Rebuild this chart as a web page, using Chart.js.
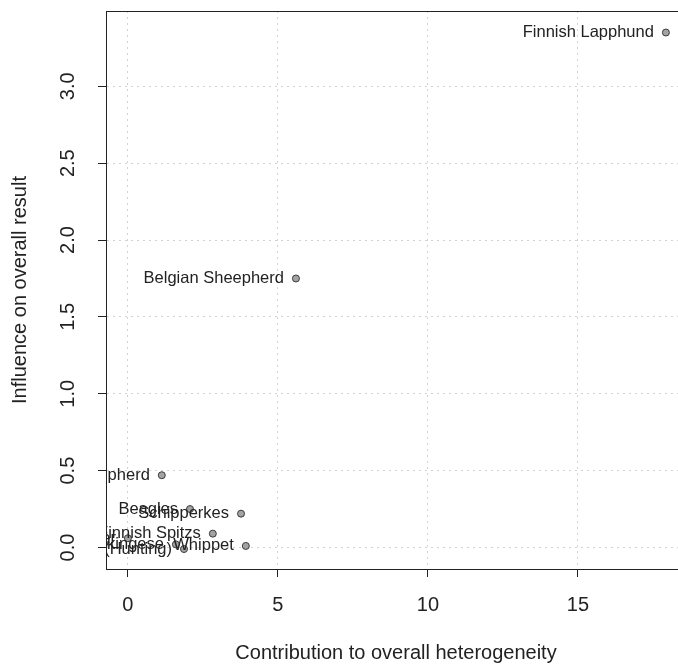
<!DOCTYPE html>
<html>
<head>
<meta charset="utf-8">
<script src="https://cdn.jsdelivr.net/npm/chart.js@4/dist/chart.umd.min.js"></script>
<style>
  html, body { margin: 0; padding: 0; background: #fff; overflow: hidden; }
  #wrap { width: 678px; height: 668px; overflow: hidden; }
</style>
</head>
<body>
<div id="wrap"><canvas id="chart" width="700" height="668" style="width:700px;height:668px"></canvas></div>
<script>
// breeds, as labelled next to each point
var breeds = [
  'Finnish Lapphund',
  'Belgian Sheepherd',
  'German Shepherd',
  'Beagles',
  'Schipperkes',
  'Finnish Spitzs',
  'Whippet',
  'Finnish Hound (Hunting)',
  'Pekingese',
  'Lapponian Herder'
];
// contribution to overall heterogeneity (x)
var contribution = [17.93, 5.6, 1.13, 2.07, 3.77, 2.83, 3.93, 1.87, 1.6, 0.0];
// influence on overall result (y)
var influence = [3.35, 1.75, 0.47, 0.25, 0.22, 0.09, 0.01, -0.01, 0.02, 0.06];

var xTickValues = [0, 5, 10, 15];
var yTickValues = [0, 0.5, 1, 1.5, 2, 2.5, 3];

(function () {
  var axisFont = { family: '"Liberation Sans", Arial, sans-serif', size: 20 };
  var textColor = '#222';

  var pointLabels = {
    id: 'pointLabels',
    afterDatasetsDraw: function (chart) {
      var ctx = chart.ctx;
      var area = chart.chartArea;
      var xs = chart.scales.x;
      var ys = chart.scales.y;
      ctx.save();
      ctx.beginPath();
      ctx.rect(area.left, area.top, area.right - area.left, area.bottom - area.top);
      ctx.clip();
      ctx.font = '16.5px "Liberation Sans", Arial, sans-serif';
      ctx.fillStyle = textColor;
      ctx.textAlign = 'right';
      ctx.textBaseline = 'middle';
      breeds.forEach(function (name, i) {
        ctx.fillText(name, xs.getPixelForValue(contribution[i]) - 12, ys.getPixelForValue(influence[i]));
      });
      ctx.restore();
    }
  };

  var plotBox = {
    id: 'plotBox',
    afterDraw: function (chart) {
      var ctx = chart.ctx;
      var a = chart.chartArea;
      ctx.save();
      ctx.strokeStyle = '#222';
      ctx.lineWidth = 1;
      ctx.strokeRect(Math.round(a.left) + 0.5, Math.round(a.top) + 0.5,
        Math.round(a.right - a.left), Math.round(a.bottom - a.top));
      ctx.restore();
    }
  };

  // no extra room for overhanging tick labels, the box is set by layout padding
  function noPadding(scale) {
    scale.paddingTop = 0;
    scale.paddingBottom = 0;
    scale.paddingLeft = 0;
    scale.paddingRight = 0;
  }

  var chart = new Chart(document.getElementById('chart'), {
    type: 'scatter',
    data: {
      datasets: [
        {
          data: contribution.map(function (x, i) {
            return { x: x, y: influence[i] };
          }),
          backgroundColor: '#a3a3a3',
          borderColor: '#3a3a3a',
          borderWidth: 1,
          pointRadius: 3.5,
        }
      ]
    },
    options: {
      responsive: false,
      animation: false,
      layout: {
        padding: { left: 0, top: 11, right: 14, bottom: 0 },
      },
      plugins: {
        legend: { display: false },
        tooltip: { enabled: false },
      },
      scales: {
        x: {
          type: 'linear',
          min: -0.73,
          max: 18.6,
          afterBuildTicks: function (scale) {
            scale.ticks = xTickValues.map(function (v) { return { value: v }; });
          },
          afterFit: function (scale) {
            scale.height = 99;
            noPadding(scale);
          },
          ticks: {
            autoSkip: false,
            maxRotation: 0,
            padding: 16,
            color: textColor,
            font: axisFont,
          },
          grid: {
            color: '#d3d3d3',
            tickColor: '#222',
            tickLength: 8,
            tickBorderDash: [],
          },
          border: { display: true, color: '#222', dash: [2, 4] },
          title: {
            display: true,
            text: 'Contribution to overall heterogeneity',
            color: textColor,
            font: axisFont,
            padding: { top: 0, bottom: 3 },
          },
        },
        y: {
          type: 'linear',
          min: -0.14,
          max: 3.49,
          afterBuildTicks: function (scale) {
            scale.ticks = yTickValues.map(function (v) { return { value: v }; });
          },
          afterFit: function (scale) {
            scale.width = 106;
            noPadding(scale);
          },
          ticks: {
            autoSkip: false,
            minRotation: 90,
            maxRotation: 90,
            crossAlign: 'center',
            padding: 16,
            color: textColor,
            font: axisFont,
            callback: function (v) { return Number(v).toFixed(1); },
          },
          grid: {
            color: '#d3d3d3',
            tickColor: '#222',
            tickLength: 8,
            tickBorderDash: [],
          },
          border: { display: true, color: '#222', dash: [2, 4] },
          title: {
            display: true,
            text: 'Influence on overall result',
            color: textColor,
            font: axisFont,
            padding: { top: 8, bottom: 0 },
          },
        },
      },
    },
    plugins: [pointLabels, plotBox],
  });
})();
</script>
</body>
</html>
